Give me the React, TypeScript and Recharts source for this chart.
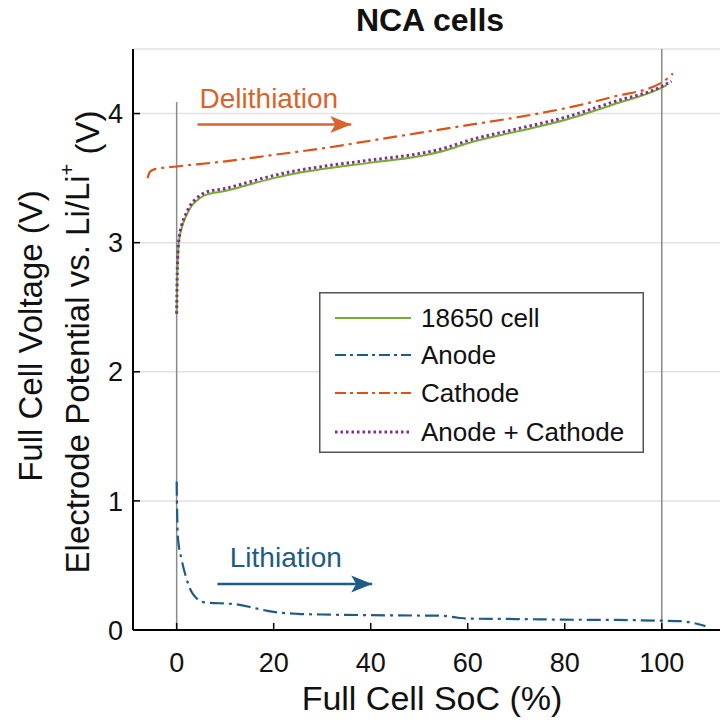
import React from "react";
import {
  LineChart,
  Line,
  XAxis,
  YAxis,
  CartesianGrid,
  ReferenceLine,
  ReferenceDot,
  Legend,
} from "recharts";

// values (x = full cell SoC %, y = volts)
const cellPoints = [
  [0, 2.45], [0.1, 2.7], [0.3, 2.93], [0.6, 3.04], [1, 3.11], [2, 3.21],
  [3, 3.28], [4, 3.32], [5, 3.35], [6, 3.37], [10, 3.4], [15, 3.45],
  [20, 3.5], [25, 3.54], [30, 3.57], [40, 3.62], [50, 3.67], [55, 3.71],
  [60, 3.77], [70, 3.86], [80, 3.95], [90, 4.07], [100, 4.2], [101, 4.22],
];
const sumPoints = [
  [0, 2.45], [0.1, 2.72], [0.3, 2.95], [0.6, 3.06], [1, 3.13], [2, 3.23],
  [3, 3.3], [4, 3.34], [5, 3.37], [6, 3.39], [10, 3.42], [15, 3.47],
  [20, 3.52], [25, 3.56], [30, 3.59], [40, 3.64], [50, 3.69], [55, 3.73],
  [60, 3.79], [70, 3.88], [80, 3.97], [90, 4.09], [100, 4.21], [102, 4.25],
];
const cathodePoints = [
  [-6, 3.5], [-5.5, 3.55], [-4.5, 3.57], [0, 3.59], [10, 3.63], [20, 3.68],
  [30, 3.73], [40, 3.79], [50, 3.85], [60, 3.91], [70, 3.97], [80, 4.04],
  [90, 4.13], [100, 4.24], [102.3, 4.31],
];
const anodePoints = [
  [0, 1.15], [0.1, 0.9], [0.3, 0.7], [1, 0.55], [2, 0.4], [3, 0.3],
  [4, 0.25], [5, 0.22], [7, 0.21], [10, 0.205], [13, 0.195], [16, 0.17],
  [20, 0.14], [25, 0.125], [30, 0.12], [40, 0.115], [50, 0.112], [55, 0.11],
  [58, 0.095], [60, 0.088], [70, 0.085], [80, 0.08], [90, 0.078],
  [100, 0.072], [104, 0.068], [107, 0.05], [109, 0.03],
];
const delithArrow = [[4.3, 3.915], [36, 3.915]];
const lithArrow = [[8.4, 0.356], [40.3, 0.356]];

const xTicks = [0, 20, 40, 60, 80, 100];
const yTicks = [0, 1, 2, 3, 4];

const toRows = (pts: number[][]) => pts.map(([x, y]) => ({ x, y }));

const FONT = "'Liberation Sans', Arial, sans-serif";
const GREEN = "#77ac30";
const BLUE = "#1d5c84";
const ORANGE = "#d95319";
const PURPLE = "#7e2f8e";
const ANNOT_ORANGE = "#d9632c";
const DASHDOT = "14 5 3 5";

const W = 720;
const H = 721;
const PLOT_LEFT = 133;
const PLOT_TOP = 49;
const PLOT_BOTTOM = 630;

const legendItems = [
  { name: "18650 cell", color: GREEN, dash: undefined, width: 2 },
  { name: "Anode", color: BLUE, dash: "11 4 3 4", width: 2 },
  { name: "Cathode", color: ORANGE, dash: "11 4 3 4", width: 2 },
  { name: "Anode + Cathode", color: PURPLE, dash: "2.5 3", width: 3 },
];

function LegendBox() {
  const rows = [26, 63, 101, 140];
  return (
    <svg width={325} height={161} style={{ display: "block" }}>
      <rect x={0.75} y={0.75} width={323.5} height={159.5} fill="#fff" stroke="#555" strokeWidth={1.5} />
      {legendItems.map((it, i) => (
        <g key={it.name}>
          <line x1={16} x2={92} y1={rows[i]} y2={rows[i]} stroke={it.color} strokeWidth={it.width} strokeDasharray={it.dash} />
          <text x={102} y={rows[i]} dy="0.36em" fontSize={26} fontFamily={FONT} fill="#111">
            {it.name}
          </text>
        </g>
      ))}
    </svg>
  );
}

function Arrowhead(props: any) {
  const { cx, cy, index, stroke } = props;
  if (index !== 1 || cx == null) return <g key={index} />;
  return (
    <path
      key={index}
      d={`M${cx},${cy} L${cx - 21},${cy - 8.5} L${cx - 16},${cy} L${cx - 21},${cy + 8.5} Z`}
      fill={stroke}
    />
  );
}

function XTick(props: any) {
  const { x, payload } = props;
  return (
    <g>
      <line x1={x} x2={x} y1={PLOT_BOTTOM} y2={PLOT_BOTTOM - 7} stroke="#000" strokeWidth={1.5} />
      <text x={x} y={662} dy="0.36em" textAnchor="middle" fontSize={27} fontFamily={FONT} fill="#111">
        {payload.value}
      </text>
    </g>
  );
}

function YTick(props: any) {
  const { y, payload } = props;
  return (
    <g>
      <line x1={PLOT_LEFT} x2={PLOT_LEFT + 7} y1={y} y2={y} stroke="#000" strokeWidth={1.5} />
      <text x={123} y={y} dy="0.36em" textAnchor="end" fontSize={27} fontFamily={FONT} fill="#111">
        {payload.value}
      </text>
    </g>
  );
}

function YLabels() {
  return (
    <g fontFamily={FONT} fontSize={33} fill="#111" textAnchor="middle">
      <text transform="translate(30,336) rotate(-90)" dy="0.36em">Full Cell Voltage (V)</text>
      <text transform="translate(77,342) rotate(-90)" dy="0.36em">
        Electrode Potential vs. Li/Li
        <tspan dy="-0.75em" fontSize={20}>+</tspan>
        <tspan dy="0.75em"> (V)</tspan>
      </text>
    </g>
  );
}

function XLabel() {
  return (
    <text x={432} y={698} dy="0.36em" textAnchor="middle" fontSize={34} fontFamily={FONT} fill="#111">
      Full Cell SoC (%)
    </text>
  );
}

export default function App() {
  return (
    <div style={{ position: "absolute", left: 0, top: 0, width: W, height: H, background: "#fff" }}>
      <LineChart
        width={W}
        height={H}
        margin={{ top: PLOT_TOP, right: 0, bottom: 0, left: 0 }}
        style={{ position: "absolute", left: 0, top: 0 }}
      >
        <CartesianGrid vertical={false} stroke="#e2e2e2" strokeWidth={1.5} />
        <XAxis
          type="number"
          dataKey="x"
          domain={[-9, 112]}
          ticks={xTicks}
          allowDataOverflow
          height={H - PLOT_BOTTOM}
          axisLine={{ stroke: "#000", strokeWidth: 2 }}
          tickLine={false}
          tick={<XTick />}
          label={{ content: () => <XLabel /> }}
        />
        <YAxis
          type="number"
          dataKey="y"
          domain={[0, 4.5]}
          ticks={yTicks}
          allowDataOverflow
          width={PLOT_LEFT}
          axisLine={{ stroke: "#000", strokeWidth: 2 }}
          tickLine={false}
          tick={<YTick />}
          label={{ content: () => <YLabels /> }}
        />
        <ReferenceLine
          segment={[{ x: 0, y: 0 }, { x: 0, y: 4.09 }]}
          stroke="#8a8a8a"
          strokeWidth={1.5}
        />
        <ReferenceLine x={100} stroke="#8a8a8a" strokeWidth={1.5} />
        <Line data={toRows(anodePoints)} dataKey="y" type="monotone" stroke={BLUE} strokeWidth={2.2} strokeDasharray={DASHDOT} dot={false} isAnimationActive={false} />
        <Line data={toRows(cathodePoints)} dataKey="y" type="monotone" stroke={ORANGE} strokeWidth={2.2} strokeDasharray={DASHDOT} dot={false} isAnimationActive={false} />
        <Line data={toRows(cellPoints)} dataKey="y" type="monotone" stroke={GREEN} strokeWidth={2} dot={false} isAnimationActive={false} />
        <Line data={toRows(sumPoints)} dataKey="y" type="monotone" stroke={PURPLE} strokeWidth={3} strokeDasharray="2.5 3" dot={false} isAnimationActive={false} />
        <Line data={toRows(delithArrow)} dataKey="y" stroke={ANNOT_ORANGE} strokeWidth={2.5} dot={<Arrowhead />} isAnimationActive={false} />
        <Line data={toRows(lithArrow)} dataKey="y" stroke={BLUE} strokeWidth={2.5} dot={<Arrowhead />} isAnimationActive={false} />
        <ReferenceDot
          x={19}
          y={4.12}
          r={0}
          shape={(p: any) => (
            <text x={p.cx} y={p.cy} dy="0.36em" textAnchor="middle" fontSize={28} fontFamily={FONT} fill={ANNOT_ORANGE}>
              Delithiation
            </text>
          )}
        />
        <ReferenceDot
          x={22.5}
          y={0.565}
          r={0}
          shape={(p: any) => (
            <text x={p.cx} y={p.cy} dy="0.36em" textAnchor="middle" fontSize={28} fontFamily={FONT} fill={BLUE}>
              Lithiation
            </text>
          )}
        />
        <Legend
          layout="vertical"
          align="center"
          verticalAlign="middle"
          wrapperStyle={{ left: 319, top: 292, width: 325, height: 161 }}
          content={() => <LegendBox />}
        />
      </LineChart>
      <div
        style={{
          position: "absolute",
          left: 0,
          width: W,
          top: 0,
          textAlign: "center",
          paddingLeft: 140,
          boxSizing: "border-box",
          fontFamily: FONT,
          fontWeight: "bold",
          fontSize: 32,
          lineHeight: "40px",
          color: "#111",
        }}
      >
        NCA cells
      </div>
    </div>
  );
}
